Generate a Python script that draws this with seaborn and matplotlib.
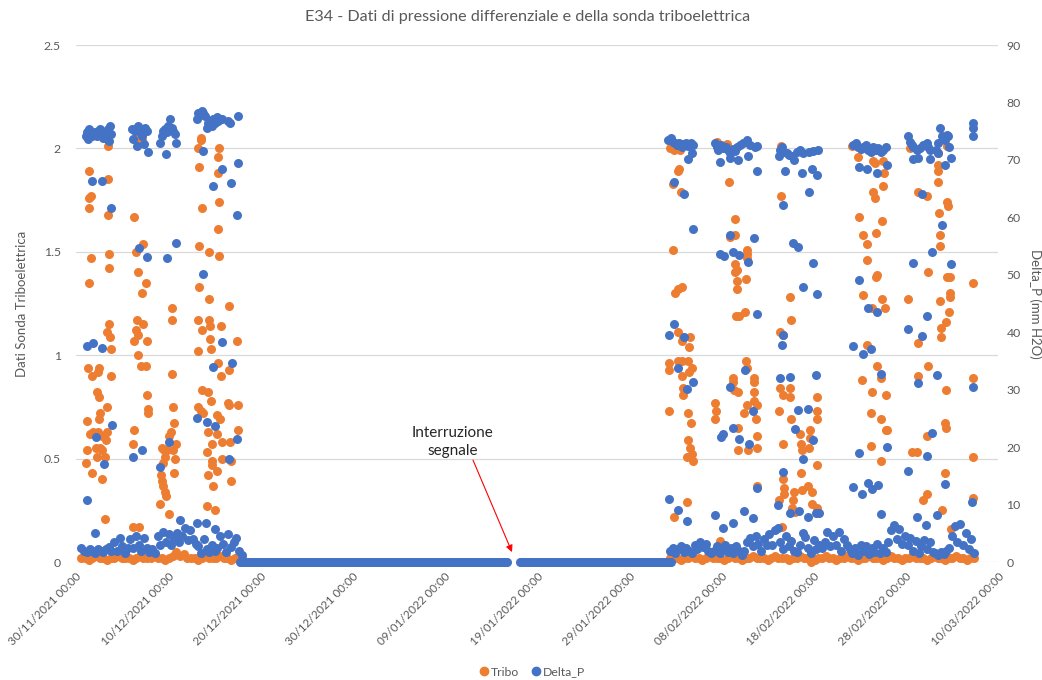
import numpy as np
import pandas as pd
import matplotlib
matplotlib.use("Agg")
import matplotlib.pyplot as plt
import matplotlib.dates as mdates
from matplotlib.lines import Line2D
import seaborn as sns

# ---------------- data ----------------
START = pd.Timestamp("2021-11-30 00:00")
END = pd.Timestamp("2022-03-10 00:00")

# Tribo (left axis): (days since 30/11/2021, value)
tribo_points = [
    # early December
    (3.51, 2.01), (1.45, 1.89), (3.43, 1.85), (1.45, 1.76), (1.59, 1.77), (1.45, 1.71), (3.43, 1.68),
    (1.59, 1.47), (3.62, 1.49), (3.62, 1.42), (1.37, 1.35), (3.62, 1.15), (3.33, 1.11), (3.69, 1.09),
    (3.76, 1.03), (1.27, 0.94), (1.70, 0.90), (2.49, 0.94), (2.42, 0.92), (2.24, 0.82), (2.46, 0.80),
    (3.76, 0.90), (3.33, 0.75), (2.60, 0.72), (2.49, 0.69), (1.23, 0.68), (1.52, 0.62), (1.88, 0.63),
    (2.42, 0.63), (2.78, 0.61), (3.33, 0.63), (3.22, 0.59), (1.23, 0.54), (2.17, 0.55), (2.60, 0.55),
    (2.24, 0.51), (3.15, 0.51), (2.78, 0.54), (1.08, 0.48), (1.77, 0.43), (2.78, 0.40), (3.15, 0.21),
    (6.65, 2.04), (7.12, 2.04), (6.94, 2.05), (6.33, 1.67), (7.23, 1.54), (6.51, 1.50), (6.76, 1.40),
    (7.59, 1.35), (7.12, 1.30), (6.65, 1.17), (7.23, 1.15), (6.51, 1.12), (6.76, 1.10), (6.29, 1.07),
    (7.74, 1.07), (6.76, 1.00), (7.01, 0.95), (7.59, 0.95), (7.66, 0.81), (7.77, 0.74), (7.85, 0.72),
    (6.29, 0.64), (6.22, 0.57), (6.15, 0.17), (6.87, 0.17),
    (10.38, 1.23), (10.41, 1.17), (10.38, 0.91), (10.48, 0.75), (10.63, 0.67), (10.34, 0.63),
    (10.12, 0.61), (9.29, 0.55), (9.54, 0.54), (9.83, 0.54), (9.65, 0.51), (9.47, 0.48), (9.18, 0.42),
    (9.29, 0.39), (9.47, 0.37), (9.65, 0.34), (9.76, 0.32), (9.11, 0.28), (10.12, 0.23), (10.74, 0.50),
    (10.67, 0.43), (10.85, 0.57), (10.56, 0.54),
    (13.52, 2.05), (13.56, 2.04), (13.27, 2.00), (15.51, 2.00), (15.44, 1.96), (13.38, 1.91),
    (15.44, 1.88), (13.63, 1.71), (15.55, 1.74), (15.37, 1.61), (13.38, 1.53), (14.46, 1.50),
    (15.55, 1.48), (13.30, 1.33), (14.46, 1.27), (16.59, 1.24), (13.27, 1.17), (14.43, 1.17),
    (14.53, 1.14), (13.63, 1.12), (15.69, 1.14), (14.53, 1.08), (14.61, 1.03), (13.20, 1.02),
    (17.43, 1.07), (15.37, 0.96), (16.63, 0.93), (15.69, 0.90), (13.63, 0.83), (14.35, 0.82),
    (14.61, 0.78), (13.20, 0.75), (13.52, 0.73), (13.74, 0.72), (15.26, 0.71), (15.62, 0.69),
    (16.45, 0.77), (16.63, 0.76), (17.53, 0.76), (14.28, 0.63), (15.26, 0.62), (14.71, 0.57),
    (15.80, 0.58), (16.70, 0.58), (17.53, 0.64), (14.17, 0.53), (14.71, 0.49), (14.79, 0.47),
    (15.80, 0.50), (16.81, 0.49), (15.26, 0.44), (14.28, 0.42), (16.78, 0.39), (14.82, 0.37),
    (14.17, 0.27), (15.08, 0.25),
    # February - March
    (64.43, 2.00), (64.86, 1.99), (65.51, 1.99), (65.44, 1.90), (65.33, 1.89), (64.79, 1.83),
    (65.59, 1.79), (64.79, 1.51), (64.97, 1.30), (65.33, 1.32), (65.69, 1.33), (65.33, 1.11),
    (65.69, 1.07), (66.60, 1.09), (66.53, 1.04), (65.88, 1.09), (64.32, 0.96), (64.32, 0.93),
    (65.33, 0.97), (65.69, 0.97), (66.42, 0.97), (66.78, 0.94), (66.49, 0.92), (65.77, 0.90),
    (65.80, 0.84), (65.88, 0.81), (64.32, 0.73), (66.42, 0.72), (66.67, 0.67), (66.35, 0.59),
    (66.60, 0.55), (66.24, 0.51), (66.78, 0.52), (66.89, 0.49), (64.90, 0.22), (66.24, 0.29),
    (69.49, 2.03), (70.58, 2.02), (70.83, 1.84), (71.48, 1.66), (71.48, 1.58), (70.94, 1.57),
    (72.74, 1.51), (72.74, 1.49), (72.74, 1.47), (71.48, 1.44), (71.66, 1.41), (71.48, 1.40),
    (71.73, 1.36), (71.66, 1.32), (72.67, 1.37), (71.59, 1.19), (71.91, 1.19), (72.56, 1.21),
    (72.64, 0.97), (72.82, 0.94), (71.30, 0.89), (71.23, 0.87), (71.37, 0.83), (71.84, 0.82),
    (73.58, 0.89), (73.58, 0.87), (73.58, 0.82), (73.54, 0.78), (73.83, 0.76), (69.31, 0.77),
    (69.42, 0.73), (69.31, 0.69), (72.74, 0.76), (72.49, 0.72), (73.72, 0.69), (71.84, 0.65),
    (73.83, 0.61), (73.83, 0.55), (71.84, 0.54), (72.93, 0.54), (73.83, 0.37), (69.85, 0.10),
    (76.47, 2.01), (76.43, 1.77), (77.44, 1.28), (77.55, 1.17), (76.36, 1.11), (76.65, 1.10),
    (76.36, 0.84), (76.72, 0.81), (77.44, 0.84), (77.44, 0.80), (76.29, 0.73), (80.34, 0.80),
    (80.34, 0.73), (80.34, 0.69), (77.55, 0.69), (76.72, 0.57), (78.53, 0.62), (78.60, 0.57),
    (79.61, 0.64), (79.61, 0.60), (79.54, 0.55), (80.34, 0.47), (78.71, 0.54), (78.60, 0.43),
    (76.72, 0.40), (76.79, 0.36), (76.79, 0.33), (77.88, 0.34), (78.71, 0.35), (79.43, 0.37),
    (79.79, 0.34), (77.81, 0.30), (77.62, 0.26), (77.99, 0.24), (79.87, 0.28), (76.25, 0.30),
    (76.61, 0.17), (80.41, 0.26),
    (84.13, 2.01), (84.85, 1.96), (86.48, 1.94), (86.66, 1.93), (87.56, 1.94), (87.64, 1.88),
    (86.41, 1.79), (86.66, 1.76), (87.49, 1.82), (84.96, 1.67), (85.32, 1.58), (85.76, 1.54),
    (86.77, 1.59), (87.38, 1.65), (85.83, 1.46), (86.84, 1.39), (86.77, 1.38), (85.32, 1.29),
    (86.30, 1.23), (87.38, 1.27), (87.74, 1.23), (85.83, 1.05), (86.91, 0.95), (87.27, 0.89),
    (85.21, 0.88), (86.37, 0.82), (87.85, 0.81), (86.23, 0.72), (87.27, 0.69), (87.85, 0.64),
    (87.99, 0.64), (86.23, 0.56), (87.27, 0.49),
    (90.46, 2.00), (93.53, 1.98), (94.51, 2.01), (93.53, 1.92), (93.53, 1.89), (93.46, 1.84),
    (91.29, 1.79), (92.34, 1.77), (94.43, 1.74), (94.61, 1.72), (93.64, 1.69), (93.71, 1.58),
    (93.71, 1.53), (92.37, 1.40), (94.43, 1.38), (94.79, 1.38), (94.79, 1.30), (94.79, 1.28),
    (90.28, 1.27), (93.71, 1.26), (94.72, 1.21), (94.32, 1.16), (93.82, 1.13), (93.82, 1.09),
    (91.36, 1.06), (92.37, 0.95), (91.36, 0.90), (94.32, 0.83), (94.25, 0.67), (94.32, 0.65),
    (92.26, 0.61), (90.64, 0.53), (91.18, 0.53), (94.25, 0.43), (92.26, 0.33), (91.83, 0.30),
    (93.96, 0.25), (94.87, 0.16),
    (97.32, 1.35), (97.25, 0.89), (97.25, 0.51), (97.25, 0.31),
]

# Tribo baseline while running (evenly sampled between the given days)
tribo_base1_span = (0.6, 18.0)
tribo_base1 = [
    0.02, 0.02, 0.01, 0.02, 0.03, 0.02, 0.02, 0.01, 0.02, 0.02,
    0.03, 0.02, 0.02, 0.02, 0.01, 0.02, 0.03, 0.02, 0.02, 0.02,
    0.03, 0.02, 0.02, 0.01, 0.02, 0.03, 0.05, 0.03, 0.04, 0.02,
    0.02, 0.02, 0.01, 0.02, 0.03, 0.02, 0.02, 0.02, 0.03, 0.02,
    0.02, 0.01, 0.02, 0.02, 0.02,
]
tribo_base2_span = (64.4, 97.4)
tribo_base2 = [
    0.02, 0.03, 0.02, 0.01, 0.02, 0.02, 0.03, 0.02, 0.02, 0.01,
    0.02, 0.03, 0.02, 0.02, 0.02, 0.01, 0.02, 0.03, 0.02, 0.02,
    0.01, 0.02, 0.02, 0.03, 0.02, 0.02, 0.02, 0.01, 0.02, 0.03,
    0.02, 0.02, 0.02, 0.01, 0.02, 0.02, 0.03, 0.02, 0.02, 0.00,
    0.01, 0.02, 0.02, 0.03, 0.02, 0.02, 0.01, 0.02, 0.02, 0.03,
    0.02, 0.02, 0.01, 0.02, 0.02, 0.03, 0.02, 0.02, 0.02, 0.01,
    0.02, 0.03, 0.02, 0.02, 0.01, 0.02, 0.02, 0.03, 0.02, 0.02,
    0.02, 0.01, 0.02, 0.03, 0.02, 0.02, 0.01, 0.02, 0.02, 0.03,
    0.02, 0.02, 0.01, 0.02, 0.02,
]

# Delta_P (right axis, mm H2O): (days since 30/11/2021, value)
dp_points = [
    (1.08, 74.2), (1.16, 74.8), (1.34, 73.6), (1.45, 75.3), (1.52, 74.9), (1.70, 74.2), (1.88, 74.5),
    (2.06, 74.8), (2.24, 74.2), (2.42, 75.0), (2.60, 75.4), (2.78, 74.6), (2.96, 73.9), (3.15, 74.9),
    (3.33, 73.6), (3.51, 75.3), (3.69, 75.9), (3.76, 74.5), (3.62, 73.3),
    (1.77, 66.3), (2.78, 66.3), (3.76, 61.7), (1.16, 37.6), (1.88, 38.1), (2.78, 37.3), (2.17, 21.8),
    (3.87, 23.8), (3.07, 17.0), (1.16, 10.8), (2.06, 5.0),
    (6.04, 75.3), (6.22, 73.6), (6.40, 75.0), (6.58, 75.6), (6.76, 75.9), (6.94, 74.8), (7.12, 74.2),
    (7.30, 75.3), (7.48, 75.6), (7.66, 75.0), (6.65, 72.4), (7.77, 71.3), (7.38, 72.7),
    (6.87, 54.7), (7.74, 53.1), (7.12, 19.5), (6.15, 18.2),
    (9.11, 73.0), (9.29, 74.2), (9.47, 75.0), (9.65, 75.3), (9.83, 74.8), (10.01, 75.9), (10.20, 77.1),
    (10.38, 75.6), (10.56, 75.0), (10.74, 74.5), (9.76, 71.0), (10.85, 73.0),
    (9.83, 53.0), (10.85, 55.5), (9.11, 16.6), (10.12, 20.9),
    (13.09, 77.1), (13.27, 78.2), (13.45, 77.9), (13.63, 78.5), (13.81, 78.2), (13.99, 77.7),
    (14.17, 75.6), (14.35, 76.5), (14.53, 76.8), (14.71, 75.9), (14.90, 77.1), (15.08, 76.5),
    (15.26, 77.4), (15.44, 76.8), (15.62, 77.2), (15.80, 77.1), (16.52, 76.8), (16.70, 76.5),
    (17.61, 77.7), (13.81, 71.6), (15.80, 68.4), (14.82, 65.5), (16.78, 66.0), (17.43, 60.4),
    (17.61, 69.4), (13.81, 50.1), (15.87, 38.3), (16.88, 34.6), (14.82, 33.9), (13.16, 25.1),
    (14.17, 24.4), (15.08, 23.6), (17.43, 21.5), (16.56, 17.9), (13.16, 6.8), (14.06, 6.8),
    (15.08, 5.7), (11.28, 7.4),
    (64.25, 73.5), (64.50, 73.8), (64.72, 73.2), (64.97, 72.9), (65.15, 72.6), (65.44, 73.0),
    (65.69, 72.3), (65.88, 72.8), (66.16, 72.9), (66.42, 72.4), (66.67, 72.9), (66.89, 72.6),
    (66.78, 71.2), (66.35, 70.1), (64.90, 66.2), (65.95, 64.1), (66.89, 57.9), (64.90, 41.4),
    (64.32, 39.6), (65.95, 39.2), (65.33, 33.7), (66.96, 31.3), (66.24, 30.1), (64.32, 11.0),
    (65.26, 9.1), (66.24, 7.2),
    (69.31, 72.9), (69.49, 72.3), (69.67, 71.7), (69.92, 72.6), (70.21, 72.0), (70.50, 72.3),
    (70.76, 71.7), (70.94, 71.2), (71.23, 71.9), (71.48, 71.6), (71.73, 72.3), (72.02, 72.6),
    (72.38, 73.0), (72.74, 73.4), (73.11, 72.6), (73.65, 72.3), (73.83, 72.4), (69.85, 69.7),
    (70.94, 70.3), (71.84, 70.0), (72.93, 70.6), (73.83, 68.0),
    (70.94, 56.9), (73.54, 56.4), (69.85, 53.7), (70.29, 53.3), (71.30, 54.0), (71.95, 53.5),
    (72.85, 52.3), (73.90, 43.2), (72.56, 33.4), (70.94, 30.5), (73.47, 26.3), (71.30, 23.3),
    (70.14, 22.3), (69.92, 21.8), (71.95, 21.4), (73.03, 20.5), (73.83, 12.8), (69.31, 8.2),
    (70.21, 5.9), (71.23, 6.8), (72.45, 8.9), (73.40, 7.6),
    (76.36, 71.7), (76.54, 72.3), (76.72, 71.4), (77.08, 71.2), (77.37, 70.9), (77.62, 70.7),
    (77.88, 70.0), (78.17, 71.3), (78.53, 71.7), (78.82, 71.2), (79.54, 71.4), (79.97, 71.6),
    (80.52, 71.7), (76.29, 70.6), (76.90, 68.1), (78.71, 67.8), (79.79, 68.5), (80.34, 67.4),
    (79.54, 64.5), (76.65, 62.2),
    (77.81, 55.5), (78.35, 54.9), (79.97, 52.0), (78.82, 47.8), (80.34, 46.7), (76.72, 39.5),
    (76.61, 37.7), (76.36, 32.0), (77.44, 32.2), (80.26, 32.5), (78.35, 26.5), (79.43, 26.6),
    (77.99, 23.2), (79.90, 21.2), (78.82, 18.0), (76.72, 15.6), (76.18, 9.9), (77.44, 8.6),
    (78.42, 8.9), (79.43, 7.9), (80.26, 8.5), (80.62, 8.5),
    (84.31, 72.6), (84.60, 72.9), (84.85, 72.3), (85.11, 71.9), (85.39, 72.3), (85.68, 72.6),
    (85.94, 71.7), (86.19, 71.4), (86.48, 72.3), (86.77, 71.7), (87.02, 72.0), (87.27, 71.4),
    (87.56, 71.7), (87.85, 72.3), (84.96, 68.7), (85.83, 68.4), (86.84, 67.8), (87.93, 69.2),
    (84.96, 49.1), (85.94, 44.2), (86.84, 43.5), (84.31, 37.6), (85.32, 36.2), (86.23, 37.0),
    (87.27, 32.7), (84.92, 19.0), (87.93, 20.0), (84.24, 13.1), (85.21, 11.8), (85.94, 13.7),
    (86.30, 12.7), (87.02, 13.4), (87.27, 8.4),
    (90.28, 74.1), (90.46, 73.2), (90.64, 72.6), (90.82, 72.3), (91.18, 71.7), (91.54, 72.0),
    (91.90, 72.6), (92.26, 73.0), (92.44, 72.3), (92.63, 71.7), (93.53, 72.9), (93.71, 75.5),
    (93.89, 74.1), (94.07, 73.8), (94.25, 73.5), (94.43, 74.3), (94.61, 74.1), (94.72, 72.3),
    (93.28, 71.7), (90.74, 70.1), (91.36, 70.3), (92.63, 70.1), (93.53, 71.2), (94.25, 69.1),
    (94.87, 70.3), (91.72, 64.1), (93.96, 58.6), (92.81, 53.9),
    (90.82, 52.1), (94.87, 51.8), (92.26, 42.8), (90.28, 40.5), (91.76, 39.4), (93.42, 32.5),
    (91.36, 31.2), (92.81, 22.5), (92.26, 18.5), (90.28, 15.9), (94.25, 13.6), (92.19, 6.4),
    (91.25, 7.9), (93.42, 8.2),
    (97.25, 76.5), (97.25, 75.5), (97.32, 74.2), (97.25, 30.4), (97.14, 10.5),
]

# Delta_P baseline while running (evenly sampled between the given days)
dp_base1_span = (0.6, 18.0)
dp_base1 = [
    2.5, 2.0, 1.8, 2.2, 2.0, 1.6, 2.3, 2.0, 1.8, 2.2, 2.6, 2.0,
    3.5, 2.0, 4.2, 2.8, 1.6, 2.4, 4.0, 2.5, 4.5, 3.0,
    2.0, 4.2, 2.5, 1.8, 2.2, 1.6,
    4.5, 3.0, 5.2, 3.5, 4.8, 3.0, 4.0,
    5.0, 3.5, 4.6, 6.0, 3.8, 5.5, 4.0, 3.2,
    2.8, 1.6, 4.0, 2.2, 1.8, 3.0, 2.0,
    2.5, 4.5, 3.2, 1.8, 4.8, 2.6, 3.5, 4.2, 2.0, 1.2,
]
dp_base2_span = (64.4, 97.4)
dp_base2 = [
    2.0, 2.5, 1.6, 2.2, 2.8, 1.8, 2.4, 2.0, 1.5,
    3.0, 2.2, 3.4, 2.6, 3.2, 2.0, 1.6,
    2.0, 2.8, 1.6, 2.5, 3.0, 1.8, 2.4, 1.5, 2.8, 2.0,
    1.2, 2.0, 3.5, 4.2, 2.8, 4.5, 3.2, 2.0, 4.0, 3.0,
    4.8, 3.0, 5.5, 6.0, 3.5, 2.2, 4.5, 2.8, 3.6, 2.0,
    1.8, 3.0, 5.0, 4.4, 2.5, 1.6, 3.8, 2.2, 3.0, 2.5,
    3.5, 5.2, 2.8, 4.6, 3.0, 5.3, 2.0, 4.0, 3.0, 2.2,
    1.5, 2.5, 1.2, 3.0, 2.0, 2.8, 1.4, 2.4, 1.8, 3.2, 1.6, 2.5, 1.8,
    3.5, 5.5, 6.4, 4.0, 5.8, 3.2, 4.5,
    3.0, 4.2, 2.0, 3.6, 1.5, 2.8, 3.8, 2.2, 3.4, 1.8,
    1.5, 1.2, 1.8, 1.4, 2.0,
    2.5, 4.5, 6.2, 3.5, 6.7, 3.0, 5.0, 2.2, 4.0, 1.5,
]

# Delta_P reads 0 while the plant is stopped (signal lost between the two stretches)
dp_zero_spans = [(17.8, 46.7), (48.2, 64.5)]
dp_zero_step = 0.1  # days between samples

# ---------------- build tables ----------------
def to_time(days):
    return START + pd.to_timedelta(np.asarray(days, dtype=float), unit="D")


def frame(points, bases):
    d = [p[0] for p in points]
    v = [p[1] for p in points]
    for span, vals in bases:
        d += list(np.linspace(span[0], span[1], len(vals)))
        v += list(vals)
    return pd.DataFrame({"time": to_time(d), "value": v})


tribo_df = frame(tribo_points, [(tribo_base1_span, tribo_base1), (tribo_base2_span, tribo_base2)])
dp_df = frame(dp_points, [(dp_base1_span, dp_base1), (dp_base2_span, dp_base2)])
zero_days = np.concatenate([np.arange(a, b + 1e-9, dp_zero_step) for a, b in dp_zero_spans])
dp_df = pd.concat([pd.DataFrame({"time": to_time(zero_days), "value": 0.0}), dp_df],
                  ignore_index=True)

# ---------------- plot ----------------
ORANGE = "#ED7D31"
BLUE = "#4472C4"
GRAY = "#595959"
GRID = "#D9D9D9"

sns.set_theme(style="white")
plt.rcParams["font.family"] = ["Lato", "DejaVu Sans"]

fig, ax = plt.subplots(figsize=(10.42, 6.8), dpi=100)
fig.subplots_adjust(left=0.0729, right=0.9578, top=0.9338, bottom=0.1735)
ax2 = ax.twinx()

sns.scatterplot(data=tribo_df, x="time", y="value", ax=ax, color=ORANGE, s=42,
                linewidth=0, legend=False, clip_on=False, zorder=3)
sns.scatterplot(data=dp_df, x="time", y="value", ax=ax2, color=BLUE, s=42,
                linewidth=0, legend=False, clip_on=False, zorder=3)

ax.set_xlim(START, END)
ax.set_ylim(0, 2.5)
ax2.set_ylim(0, 90)
ax.set_yticks([0, 0.5, 1, 1.5, 2, 2.5])
ax.set_yticklabels(["0", "0.5", "1", "1.5", "2", "2.5"])
ax2.set_yticks(np.arange(0, 91, 10))

ax.set_xticks(pd.date_range(START, END, freq="10D"))
ax.xaxis.set_major_formatter(mdates.DateFormatter("%d/%m/%Y %H:%M"))

for a in (ax, ax2):
    for sp in a.spines.values():
        sp.set_visible(False)
ax.grid(axis="y", color=GRID, linewidth=0.9)
ax.set_axisbelow(True)
ax.tick_params(axis="x", length=0, pad=6, labelsize=8.4, labelcolor=GRAY, labelrotation=45)
ax.tick_params(axis="y", length=0, pad=11, labelsize=8.8, labelcolor=GRAY)
ax2.tick_params(axis="y", length=0, pad=6, labelsize=8.8, labelcolor=GRAY)
for lbl in ax.get_xticklabels():
    lbl.set_ha("right")
    lbl.set_va("top")
    lbl.set_rotation_mode("anchor")

ax.set_xlabel("")
ax.set_ylabel("Dati Sonda Triboelettrica", color=GRAY, fontsize=9.5)
ax.yaxis.set_label_coords(-0.0585, 0.5)
ax.yaxis.label.set(rotation=90, va="center", ha="center", rotation_mode="default")
ax2.set_ylabel("Delta_P (mm H2O)", color=GRAY, fontsize=9.5)
ax2.yaxis.set_label_coords(1.0405, 0.5)
ax2.yaxis.label.set(rotation=270, va="center", ha="center", rotation_mode="default")

fig.text(0.506, 1 - 17 / 680, "E34 - Dati di pressione differenziale e della sonda triboelettrica",
         ha="center", va="center", fontsize=11.6, color=GRAY)

# annotation
def day_num(d):
    return mdates.date2num(START + pd.Timedelta(days=d))

ax.text(day_num(40.89), 0.58, "Interruzione\nsegnale", ha="center", va="center",
        fontsize=11, color="#262626", linespacing=1.3)
ax.annotate("", xy=(day_num(47.29), 0.048), xytext=(day_num(43.06), 0.493),
            arrowprops=dict(arrowstyle="-|>", color="red", lw=0.8, mutation_scale=10,
                            shrinkA=0, shrinkB=0))

handles = [Line2D([], [], marker="o", linestyle="", color=ORANGE, markersize=6),
           Line2D([], [], marker="o", linestyle="", color=BLUE, markersize=6)]
fig.legend(handles, ["Tribo", "Delta_P"], loc="center", bbox_to_anchor=(0.51, 1 - 672 / 680),
           ncol=2, frameon=False, fontsize=8.8, labelcolor=GRAY, handletextpad=0.05,
           columnspacing=0.9, handlelength=1.0)

fig.savefig("out.png", dpi=100)
